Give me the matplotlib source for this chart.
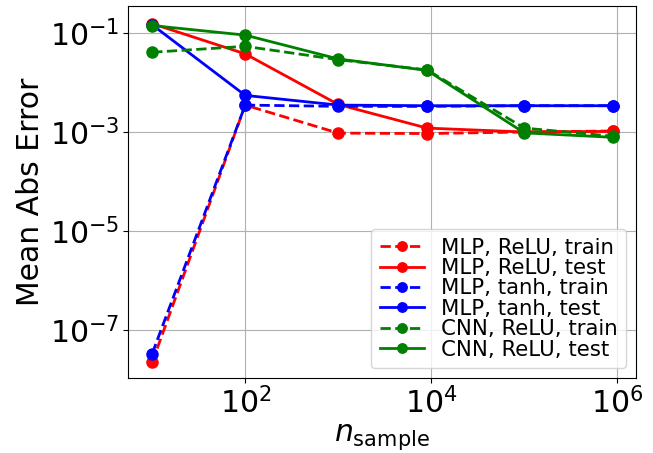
import numpy as np
import matplotlib
matplotlib.use("Agg")
import matplotlib.pyplot as plt

n_sample = [10, 100, 1000, 9000, 100000, 900000]

mlp_relu_train = [2.2e-8, 3.5e-3, 9.5e-4, 9.3e-4, 1.0e-3, 1.05e-3]
mlp_relu_test = [0.155, 0.038, 3.6e-3, 1.2e-3, 1.0e-3, 1.03e-3]
mlp_tanh_train = [3.3e-8, 3.5e-3, 3.3e-3, 3.3e-3, 3.4e-3, 3.4e-3]
mlp_tanh_test = [0.147, 5.5e-3, 3.5e-3, 3.4e-3, 3.4e-3, 3.4e-3]
cnn_relu_train = [0.041, 0.054, 0.029, 0.018, 1.2e-3, 8.2e-4]
cnn_relu_test = [0.142, 0.091, 0.030, 0.0176, 9.6e-4, 7.8e-4]

fig, ax = plt.subplots(figsize=(6.53, 4.53), dpi=100)

ax.loglog(n_sample, mlp_relu_train, "r--o", lw=2, ms=8, label="MLP, ReLU, train")
ax.loglog(n_sample, mlp_relu_test, "r-o", lw=2, ms=8, label="MLP, ReLU, test")
ax.loglog(n_sample, mlp_tanh_train, "b--o", lw=2, ms=8, label="MLP, tanh, train")
ax.loglog(n_sample, mlp_tanh_test, "b-o", lw=2, ms=8, label="MLP, tanh, test")
ax.loglog(n_sample, cnn_relu_train, "g--o", lw=2, ms=8, label="CNN, ReLU, train")
ax.loglog(n_sample, cnn_relu_test, "g-o", lw=2, ms=8, label="CNN, ReLU, test")

ax.set_xlim(10**0.74, 10**6.2)
ax.set_ylim(10**-7.97, 10**-0.45)
ax.set_xticks([1e2, 1e4, 1e6])
ax.set_yticks([1e-7, 1e-5, 1e-3, 1e-1])
ax.minorticks_off()
ax.tick_params(labelsize=21.5, pad=3)
ax.grid(True)

ax.set_xlabel(r"$n_{\mathrm{sample}}$", fontsize=21.5, labelpad=2)
ax.set_ylabel("Mean Abs Error", fontsize=21.5, labelpad=3)
ax.legend(fontsize=15.3, loc="lower right", labelspacing=0.02,
          handlelength=2.1, handletextpad=0.8, borderaxespad=0.45,
          markerscale=0.85)

fig.subplots_adjust(left=0.196, right=0.974, top=0.987, bottom=0.166)
fig.savefig("out.png")
